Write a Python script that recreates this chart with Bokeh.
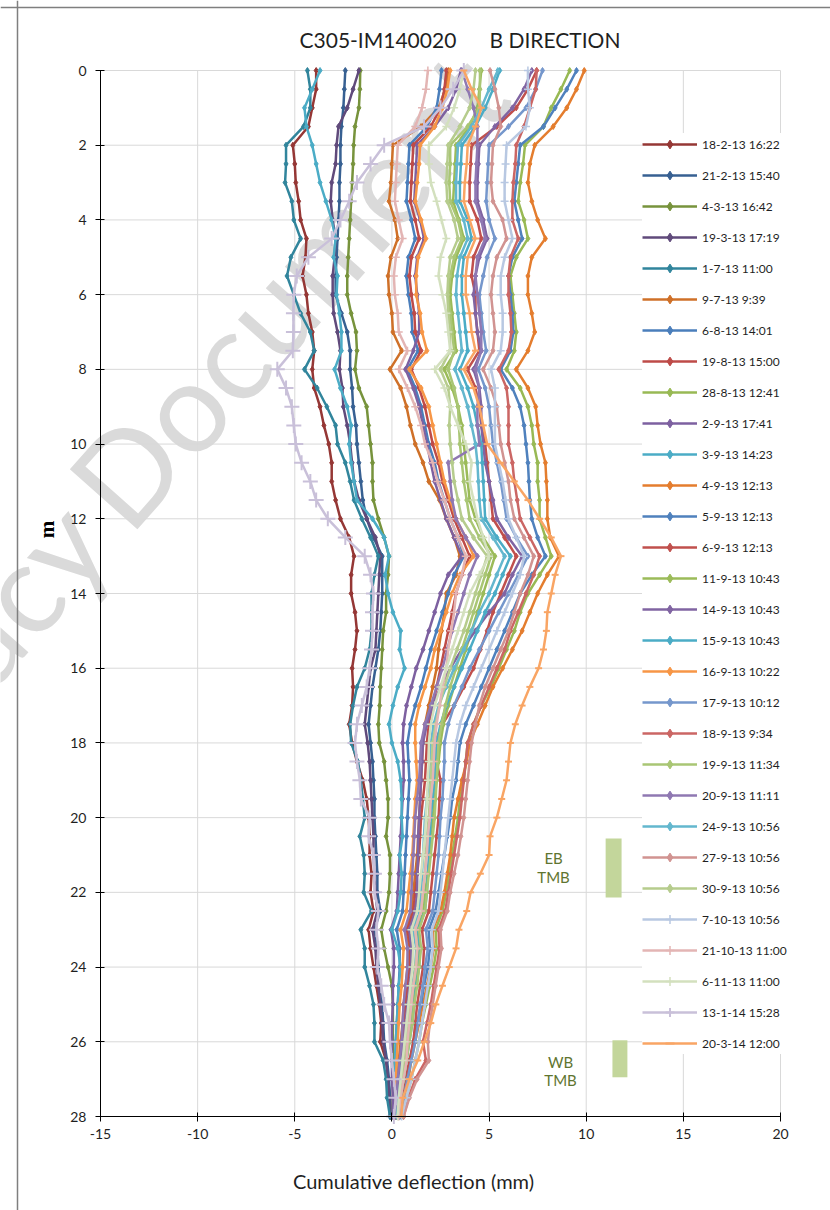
import math
from bokeh.plotting import figure
from bokeh.models import Range1d, FixedTicker, Legend, LegendItem, Label, Span
from bokeh.core.properties import value
from bokeh.embed import file_html
from bokeh.resources import INLINE

# ---------------- data ----------------
depth = [0.0, 0.5, 1.0, 1.5, 2.0, 2.5, 3.0, 3.5, 4.0, 4.5, 5.0, 5.5, 6.0, 6.5, 7.0, 7.5,
         8.0, 8.5, 9.0, 9.5, 10.0, 10.5, 11.0, 11.5, 12.0, 12.5, 13.0, 13.5, 14.0, 14.5,
         15.0, 15.5, 16.0, 16.5, 17.0, 17.5, 18.0, 18.5, 19.0, 19.5, 20.0, 20.5, 21.0,
         21.5, 22.0, 22.5, 23.0, 23.5, 24.0, 24.5, 25.0, 25.5, 26.0, 26.5, 27.0, 27.5, 28.0]

x_ticks = [-15, -10, -5, 0, 5, 10, 15, 20]
y_ticks = [0, 2, 4, 6, 8, 10, 12, 14, 16, 18, 20, 22, 24, 26, 28]

s_18_2_13 = [-3.9, -3.9, -4.1, -4.3, -5.1, -5.0,
             -4.95, -4.8, -4.7, -4.4, -4.45, -4.6,
             -4.4, -4.3, -4.1, -4.0, -4.1, -4.0,
             -3.7, -3.5, -3.25, -3.1, -3.1, -2.9,
             -2.65, -2.2, -1.95, -2.1, -2.1, -1.9,
             -1.8, -1.9, -2.05, -2.0, -2.05, -2.2,
             -2.05, -1.8, -1.5, -1.3, -1.2, -1.15,
             -1.15, -1.05, -1.1, -0.95, -1.2, -1.1,
             -0.95, -0.8, -0.65, -0.55, -0.6, -0.3,
             -0.2, -0.1, -0.05]
s_21_2_13 = [-2.4, -2.45, -2.5, -2.6, -2.65, -2.65,
             -2.7, -2.7, -2.75, -2.8, -2.85, -2.9,
             -2.9, -2.6, -2.3, -2.15, -2.15, -2.05,
             -2.0, -1.85, -1.8, -1.7, -1.6, -1.5,
             -1.3, -0.95, -0.5, -0.5, -0.5, -0.55,
             -0.6, -0.7, -0.85, -1.0, -1.1, -1.2,
             -1.1, -1.0, -0.95, -0.9, -0.9, -0.85,
             -0.8, -0.75, -0.75, -0.6, -0.9, -0.75,
             -0.7, -0.6, -0.5, -0.45, -0.4, -0.25,
             -0.15, -0.1, -0.05]
s_4_3_13 = [-1.63, -1.65, -1.7, -1.9, -1.97, -2.0,
            -2.05, -2.1, -2.15, -2.2, -2.25, -2.3,
            -2.3, -2.1, -1.85, -1.8, -1.9, -1.7,
            -1.3, -1.2, -1.1, -1.0, -1.0, -0.95,
            -0.7, -0.4, -0.15, -0.2, -0.3, -0.3,
            -0.45, -0.5, -0.55, -0.6, -0.63, -0.7,
            -0.65, -0.4, -0.3, -0.2, -0.2, -0.3,
            -0.1, -0.1, -0.15, -0.3, -0.55, -0.4,
            -0.2, 0.0, 0.05, 0.05, 0.05, 0.05,
            0.05, 0.05, 0.05]
s_19_3_13 = [-1.7, -2.0, -2.3, -2.75, -2.85, -2.9,
             -3.1, -3.15, -3.05, -2.9, -2.95, -3.05,
             -3.05, -3.0, -2.8, -2.65, -2.7, -2.55,
             -2.5, -2.3, -2.15, -2.05, -1.95, -1.7,
             -1.3, -0.85, -0.6, -0.65, -0.7, -0.75,
             -0.8, -0.85, -1.1, -1.2, -1.3, -1.4,
             -1.25, -1.15, -1.1, -1.05, -1.0, -0.95,
             -0.95, -0.9, -0.85, -0.75, -1.0, -0.85,
             -0.8, -0.7, -0.6, -0.5, -0.45, -0.3,
             -0.2, -0.15, -0.1]
s_1_7_13 = [-4.35, -4.2, -4.2, -4.55, -5.45, -5.45,
            -5.5, -5.15, -5.05, -4.7, -5.2, -5.4,
            -5.05, -4.7, -4.2, -4.0, -4.5, -3.85,
            -3.35, -2.9, -2.8, -2.4, -2.15, -1.95,
            -1.55, -1.1, -0.7, -0.9, -1.05, -1.05,
            -1.05, -1.15, -1.4, -1.8, -2.0, -2.15,
            -2.1, -1.75, -1.6, -1.5, -1.4, -1.65,
            -1.45, -1.4, -1.45, -1.05, -1.6, -1.4,
            -1.4, -1.15, -0.95, -0.9, -0.9, -0.45,
            -0.3, -0.25, -0.1]
s_9_7_13 = [2.9, 2.75, 2.4, 1.5, 0.05, 0.0,
            -0.05, -0.15, 0.15, 0.3, -0.05, -0.2,
            -0.15, 0.0, 0.05, 0.5, -0.1, 0.45,
            0.75, 0.95, 1.2, 1.6, 1.9, 2.45,
            2.8, 3.2, 3.5, 3.3, 2.8, 2.7,
            2.55, 2.4, 2.3, 2.1, 1.9, 1.7,
            1.6, 1.55, 1.5, 1.45, 1.4, 1.35,
            1.3, 1.2, 1.1, 1.0, 0.7, 0.85,
            0.8, 0.7, 0.6, 0.55, 0.45, 0.35,
            0.3, 0.25, 0.2]
s_6_8_13 = [2.55, 2.45, 2.3, 1.8, 0.9, 0.85,
            0.8, 0.75, 1.0, 1.2, 0.85, 0.75,
            0.85, 1.0, 1.05, 1.35, 0.8, 1.2,
            1.5, 1.7, 1.9, 2.2, 2.4, 2.7,
            3.0, 3.4, 3.7, 3.2, 2.9, 2.6,
            2.3, 2.0, 1.75, 1.5, 1.2, 0.95,
            0.8, 0.85, 0.9, 0.85, 0.8, 0.75,
            0.7, 0.65, 0.6, 0.55, 0.25, 0.4,
            0.4, 0.35, 0.3, 0.25, 0.2, 0.2,
            0.15, 0.15, 0.1]
s_19_8_13 = [2.8, 2.7, 2.5, 2.0, 1.1, 1.05,
             1.0, 0.95, 1.2, 1.4, 1.0, 0.9,
             1.0, 1.15, 1.2, 1.5, 1.0, 1.4,
             1.7, 1.9, 2.1, 2.4, 2.6, 2.9,
             3.2, 3.6, 4.0, 3.6, 3.3, 3.1,
             2.9, 2.7, 2.5, 2.3, 2.1, 1.9,
             1.8, 1.75, 1.7, 1.6, 1.5, 1.45,
             1.4, 1.3, 1.2, 1.1, 0.8, 0.95,
             0.9, 0.8, 0.7, 0.6, 0.55, 0.45,
             0.4, 0.3, 0.25]
s_28_8_13 = [9.15, 8.7, 8.2, 7.8, 6.85, 6.75,
             6.6, 6.5, 6.8, 7.0, 6.4, 6.1,
             6.2, 6.3, 6.4, 6.3, 5.9, 6.6,
             7.0, 7.2, 7.3, 7.5, 7.5, 7.6,
             7.6, 7.9, 8.2, 7.6, 7.0, 6.6,
             6.3, 5.9, 5.5, 5.1, 4.6, 4.2,
             3.9, 3.8, 3.7, 3.5, 3.4, 3.25,
             3.1, 2.95, 2.8, 2.6, 2.25, 2.3,
             2.15, 1.95, 1.75, 1.55, 1.4, 1.2,
             1.0, 0.75, 0.5]
s_2_9_13 = [3.55, 3.3, 2.9, 2.2, 1.3, 1.25,
            1.2, 1.15, 1.45, 1.65, 1.3, 1.2,
            1.3, 1.4, 1.4, 1.1, 0.7, 1.1,
            1.4, 1.6, 1.8, 2.0, 2.2, 2.5,
            2.8, 3.2, 3.6, 2.9, 2.5, 2.2,
            1.9, 1.6, 1.25, 1.0, 0.75, 0.6,
            0.55, 0.6, 0.6, 0.55, 0.5, 0.45,
            0.4, 0.35, 0.3, 0.25, -0.05, 0.1,
            0.1, 0.05, 0.05, 0.0, 0.0, 0.0,
            0.0, 0.05, 0.05]
s_3_9_13 = [-3.7, -4.1, -4.5, -4.4, -4.1, -3.9,
            -3.7, -3.4, -3.1, -2.9, -3.0, -2.8,
            -2.85, -2.7, -2.6, -2.6, -2.95, -2.65,
            -2.3, -2.1, -2.2, -2.1, -1.95, -1.8,
            -1.0, -0.4, -0.15, -0.35, -0.2, 0.05,
            0.45, 0.4, 0.65, 0.3, 0.05, -0.15,
            0.0, 0.3, 0.45, 0.5, 0.5, 0.55,
            0.4, 0.5, 0.45, 0.3, 0.0, 0.3,
            0.45, 0.35, 0.3, 0.25, 0.2, 0.15,
            0.15, 0.2, 0.3]
s_4_9_13 = [9.9, 9.5, 9.0, 8.3, 7.35, 7.1,
            7.0, 7.2, 7.5, 7.9, 7.2, 7.0,
            7.0, 7.2, 7.35, 7.0, 6.4, 7.0,
            7.4, 7.5, 7.65, 7.9, 7.95, 8.0,
            8.0, 8.15, 8.6, 8.0, 7.5, 7.1,
            6.7, 6.2, 5.7, 5.2, 4.8, 4.4,
            4.0, 3.85, 3.6, 3.4, 3.2, 3.1,
            3.0, 2.85, 2.7, 2.5, 2.1, 2.15,
            2.0, 1.8, 1.6, 1.4, 1.2, 1.0,
            0.85, 0.6, 0.4]
s_5_9_13 = [9.5, 9.0, 8.4, 7.8, 6.6, 6.5,
            6.4, 6.3, 6.5, 6.7, 6.2, 6.0,
            6.1, 6.2, 6.25, 6.1, 5.6, 6.2,
            6.6, 6.8, 6.9, 7.0, 7.05, 7.1,
            7.2, 7.5, 7.9, 7.2, 6.6, 6.2,
            5.8, 5.4, 5.0, 4.6, 4.2, 3.8,
            3.5, 3.4, 3.3, 3.1, 3.0, 2.85,
            2.7, 2.55, 2.4, 2.25, 1.9, 1.95,
            1.85, 1.65, 1.5, 1.3, 1.1, 0.95,
            0.75, 0.55, 0.4]
s_6_9_13 = [7.45, 7.0, 6.4, 5.4, 4.1, 4.05,
            4.0, 4.0, 4.4, 4.6, 4.2, 4.1,
            4.3, 4.3, 4.4, 4.5, 3.9, 4.3,
            4.5, 4.6, 4.8, 4.9, 5.0, 5.1,
            5.2, 5.8, 6.4, 6.0, 5.6, 5.2,
            4.9, 4.55, 4.2, 3.7, 3.2, 2.6,
            2.2, 2.3, 2.5, 2.45, 2.4, 2.3,
            2.2, 2.1, 2.0, 1.9, 1.55, 1.65,
            1.6, 1.45, 1.3, 1.2, 1.1, 0.9,
            0.7, 0.5, 0.35]
s_11_9_13 = [4.6, 4.5, 4.4, 4.0, 3.3, 3.25,
             3.2, 3.15, 3.45, 3.7, 3.3, 3.1,
             3.0, 3.1, 3.2, 3.3, 2.7, 3.1,
             3.4, 3.6, 3.7, 3.8, 3.9, 4.0,
             4.3, 4.7, 5.3, 5.0, 4.7, 4.4,
             4.1, 3.8, 3.5, 3.2, 2.9, 2.65,
             2.5, 2.4, 2.3, 2.2, 2.1, 2.0,
             1.95, 1.85, 1.7, 1.6, 1.3, 1.4,
             1.3, 1.2, 1.05, 0.95, 0.8, 0.7,
             0.55, 0.4, 0.3]
s_14_9_13 = [7.2, 6.8, 6.2, 5.3, 4.5, 4.45,
             4.4, 4.4, 4.7, 4.9, 4.5, 4.3,
             4.2, 4.3, 4.4, 4.6, 4.2, 4.5,
             4.6, 4.6, 4.7, 4.8, 5.0, 5.2,
             5.4, 6.0, 6.7, 6.2, 5.8, 5.0,
             4.3, 3.6, 3.0, 2.5, 2.1, 1.8,
             1.6, 1.55, 1.5, 1.45, 1.4, 1.35,
             1.35, 1.3, 1.3, 1.2, 0.9, 1.0,
             1.0, 0.9, 0.8, 0.7, 0.6, 0.5,
             0.4, 0.3, 0.2]
s_15_9_13 = [5.55, 5.2, 4.8, 4.3, 3.6, 3.55,
             3.5, 3.5, 3.9, 4.1, 3.7, 3.6,
             3.6, 3.7, 3.8, 3.9, 3.5, 3.9,
             4.2, 4.4, 4.6, 4.65, 4.7, 4.75,
             4.8, 5.4, 6.1, 5.7, 5.3, 4.8,
             4.4, 4.0, 3.6, 3.2, 2.8, 2.5,
             2.3, 2.25, 2.2, 2.1, 2.0, 1.95,
             1.9, 1.85, 1.8, 1.7, 1.35, 1.45,
             1.4, 1.25, 1.15, 1.05, 0.9, 0.75,
             0.6, 0.45, 0.35]
s_16_9_13 = [3.0, 2.85, 2.6, 2.2, 1.45, 1.4,
             1.3, 1.2, 1.5, 1.75, 1.35, 1.25,
             1.25, 1.45, 1.55, 1.8, 0.9, 1.5,
             1.9, 2.1, 2.3, 2.5, 2.7, 3.0,
             3.3, 3.8, 4.2, 3.5, 3.1, 2.8,
             2.5, 2.2, 2.0, 1.7, 1.4, 1.2,
             1.2, 1.25, 1.3, 1.2, 1.15, 1.1,
             1.05, 0.95, 0.85, 0.75, 0.45, 0.6,
             0.55, 0.5, 0.4, 0.35, 0.3, 0.25,
             0.2, 0.2, 0.15]
s_17_9_13 = [7.75, 7.4, 6.9, 6.0, 5.0, 4.95,
             4.9, 4.85, 5.0, 5.3, 4.9, 4.7,
             4.5, 4.6, 4.7, 4.85, 4.45, 4.8,
             5.0, 5.1, 5.2, 5.4, 5.6, 5.75,
             5.9, 6.4, 7.0, 6.5, 6.0, 5.5,
             5.0, 4.5, 4.0, 3.6, 3.2, 2.9,
             2.7, 2.7, 2.65, 2.6, 2.5, 2.45,
             2.4, 2.3, 2.2, 2.1, 1.75, 1.85,
             1.7, 1.6, 1.45, 1.35, 1.2, 1.0,
             0.8, 0.6, 0.4]
s_18_9_13 = [7.45, 7.4, 7.1, 6.8, 6.4, 6.35,
             6.25, 6.2, 6.2, 6.5, 6.1, 6.0,
             6.0, 6.1, 6.15, 6.0, 5.5, 5.9,
             6.0, 6.0, 6.0, 6.2, 6.3, 6.45,
             6.6, 7.1, 7.6, 7.3, 6.9, 6.5,
             6.1, 5.8, 5.4, 5.0, 4.6, 4.2,
             3.9, 3.8, 3.7, 3.6, 3.5, 3.35,
             3.2, 3.05, 2.9, 2.75, 2.4, 2.45,
             2.3, 2.15, 2.0, 1.8, 1.6, 1.75,
             1.2, 0.85, 0.6]
s_19_9_13 = [4.53, 4.53, 4.5, 3.9, 3.0, 3.0,
             2.95, 3.0, 3.4, 3.6, 3.2, 3.0,
             2.9, 3.0, 3.1, 3.2, 2.9, 3.2,
             3.4, 3.45, 3.5, 3.6, 3.7, 3.85,
             4.0, 4.5, 5.1, 4.8, 4.5, 4.2,
             3.9, 3.6, 3.3, 3.0, 2.75, 2.55,
             2.4, 2.35, 2.3, 2.25, 2.2, 2.1,
             2.0, 1.9, 1.8, 1.7, 1.4, 1.5,
             1.4, 1.3, 1.15, 1.05, 0.9, 0.75,
             0.6, 0.45, 0.3]
s_20_9_13 = [3.6, 3.9, 4.2, 4.4, 4.4, 4.35,
             4.3, 4.3, 4.6, 4.8, 4.4, 4.3,
             4.4, 4.5, 4.6, 4.6, 4.3, 4.5,
             4.4, 4.4, 4.5, 2.9, 3.0, 3.1,
             3.3, 3.8, 4.4, 4.0, 3.7, 3.4,
             3.1, 2.85, 2.6, 2.3, 2.0, 1.7,
             1.5, 1.45, 1.4, 1.3, 1.2, 1.15,
             1.1, 1.05, 1.0, 0.95, 0.65, 0.8,
             0.8, 0.7, 0.6, 0.55, 0.5, 0.4,
             0.3, 0.2, 0.15]
s_24_9_13 = [5.45, 5.0, 4.6, 4.1, 3.4, 3.35,
             3.3, 3.3, 3.7, 3.9, 3.5, 3.35,
             3.3, 3.4, 3.5, 3.6, 3.25, 3.6,
             3.9, 4.1, 4.3, 4.4, 4.45, 4.5,
             4.6, 5.2, 5.8, 5.4, 5.0, 4.5,
             4.1, 3.7, 3.2, 2.8, 2.4, 2.15,
             2.0, 1.95, 1.9, 1.8, 1.7, 1.65,
             1.6, 1.55, 1.5, 1.4, 1.1, 1.25,
             1.2, 1.05, 0.95, 0.85, 0.7, 0.55,
             0.45, 0.35, 0.25]
s_27_9_13 = [5.05, 5.3, 5.5, 5.6, 5.2, 5.15,
             5.1, 5.2, 5.7, 5.9, 5.4, 5.2,
             5.1, 5.2, 5.3, 5.2, 4.7, 5.1,
             5.4, 5.5, 5.6, 5.8, 6.0, 6.1,
             6.3, 6.8, 7.3, 7.0, 6.6, 6.3,
             6.0, 5.6, 5.2, 4.8, 4.5, 4.3,
             4.1, 4.0, 3.9, 3.8, 3.7, 3.55,
             3.4, 3.2, 3.0, 2.85, 2.5, 2.55,
             2.4, 2.25, 2.1, 1.95, 1.85, 1.9,
             1.3, 0.9, 0.6]
s_30_9_13 = [4.3, 4.2, 4.0, 3.5, 2.9, 2.85,
             2.8, 2.85, 3.2, 3.4, 3.0, 2.9,
             2.85, 2.9, 3.0, 3.0, 2.5, 2.9,
             3.0, 2.95, 3.0, 3.1, 3.2, 3.4,
             3.6, 4.2, 4.9, 4.6, 4.3, 4.0,
             3.7, 3.35, 3.0, 2.7, 2.45, 2.25,
             2.1, 2.05, 2.0, 1.95, 1.9, 1.8,
             1.75, 1.7, 1.6, 1.5, 1.2, 1.3,
             1.2, 1.1, 0.95, 0.85, 0.75, 0.6,
             0.5, 0.4, 0.3]
s_7_10_13 = [7.0, 7.0, 7.1, 6.9, 5.9, 5.85,
             5.8, 5.8, 6.0, 6.2, 5.8, 5.6,
             5.6, 5.7, 5.7, 5.6, 5.1, 5.3,
             5.3, 5.3, 5.3, 5.5, 5.7, 5.85,
             6.0, 6.4, 6.8, 6.6, 6.2, 5.8,
             5.4, 5.0, 4.6, 4.2, 3.8, 3.5,
             3.3, 3.2, 3.1, 3.0, 2.9, 2.8,
             2.7, 2.6, 2.5, 2.4, 2.05, 2.1,
             2.0, 1.85, 1.7, 1.55, 1.4, 1.2,
             1.0, 0.75, 0.5]
s_21_10_13 = [1.85, 1.75, 1.55, 1.2, 0.3, 0.25,
              0.2, 0.15, 0.35, 0.55, 0.2, 0.1,
              0.15, 0.3, 0.35, 0.8, 0.35, 0.8,
              1.2, 1.5, 1.7, 2.1, 2.35, 2.7,
              3.0, 3.4, 3.8, 3.6, 3.3, 3.2,
              3.05, 2.9, 2.8, 2.6, 2.45, 2.3,
              2.2, 2.15, 2.1, 2.0, 1.95, 1.85,
              1.8, 1.7, 1.6, 1.5, 1.2, 1.3,
              1.25, 1.1, 1.0, 0.9, 0.8, 0.75,
              0.6, 0.45, 0.35]
s_6_11_13 = [3.7, 3.5, 3.2, 2.8, 1.9, 1.9,
             2.0, 2.3, 2.55, 2.8, 2.5, 2.4,
             2.6, 2.8, 2.9, 3.0, 2.2, 2.7,
             3.0, 3.4, 3.8, 4.1, 4.0, 4.2,
             4.4, 4.7, 5.0, 4.5, 4.0, 3.7,
             3.4, 3.1, 2.8, 2.5, 2.2, 2.0,
             1.9, 1.9, 1.85, 1.8, 1.75, 1.7,
             1.6, 1.5, 1.4, 1.3, 1.0, 1.1,
             1.05, 0.95, 0.85, 0.75, 0.65, 0.55,
             0.45, 0.35, 0.3]
s_13_1_14 = [3.7, 3.15, 2.5, 1.65, -0.4, -1.1,
             -1.8, -2.2, -2.65, -3.1, -4.3, -4.9,
             -5.05, -5.07, -5.07, -5.1, -5.9, -5.45,
             -5.15, -5.05, -4.95, -4.65, -4.2, -3.9,
             -3.3, -2.4, -1.4, -1.1, -0.95, -1.0,
             -1.0, -1.05, -1.15, -1.3, -1.55, -1.8,
             -1.9, -1.8, -1.65, -1.6, -1.15, -1.2,
             -0.95, -0.9, -0.9, -0.7, -0.8, -0.7,
             -0.75, -0.55, -0.4, -0.15, -0.1, 0.0,
             0.1, 0.2, 0.1]
s_20_3_14 = [3.7, 4.1, 4.6, 4.3, 3.9, 3.85,
             3.75, 3.7, 4.0, 4.3, 3.9, 3.8,
             3.8, 4.0, 4.1, 4.3, 3.7, 4.2,
             4.5, 4.7, 4.9, 5.6, 6.3, 7.0,
             7.6, 8.2, 8.7, 8.4, 8.2, 8.0,
             7.95, 7.8, 7.55, 7.1, 6.7, 6.35,
             6.1, 6.0, 5.9, 5.65, 5.4, 5.05,
             5.0, 4.55, 4.05, 3.85, 3.45, 3.3,
             2.95, 2.6, 2.26, 2.0, 1.67, 1.33,
             0.9, 0.56, 0.48]

series_names = ["18-2-13 16:22", "21-2-13 15:40", "4-3-13 16:42", "19-3-13 17:19",
                "1-7-13 11:00", "9-7-13 9:39", "6-8-13 14:01", "19-8-13 15:00",
                "28-8-13 12:41", "2-9-13 17:41", "3-9-13 14:23", "4-9-13 12:13",
                "5-9-13 12:13", "6-9-13 12:13", "11-9-13 10:43", "14-9-13 10:43",
                "15-9-13 10:43", "16-9-13 10:22", "17-9-13 10:12", "18-9-13 9:34",
                "19-9-13 11:34", "20-9-13 11:11", "24-9-13 10:56", "27-9-13 10:56",
                "30-9-13 10:56", "7-10-13 10:56", "21-10-13 11:00", "6-11-13 11:00",
                "13-1-14 15:28", "20-3-14 12:00"]
series_values = [s_18_2_13, s_21_2_13, s_4_3_13, s_19_3_13, s_1_7_13, s_9_7_13,
                 s_6_8_13, s_19_8_13, s_28_8_13, s_2_9_13, s_3_9_13, s_4_9_13,
                 s_5_9_13, s_6_9_13, s_11_9_13, s_14_9_13, s_15_9_13, s_16_9_13,
                 s_17_9_13, s_18_9_13, s_19_9_13, s_20_9_13, s_24_9_13, s_27_9_13,
                 s_30_9_13, s_7_10_13, s_21_10_13, s_6_11_13, s_13_1_14, s_20_3_14]

tmb_text = ["EB", "TMB", "WB", "TMB"]
tmb_text_x = [8.32, 8.32, 8.68, 8.68]
tmb_text_y = [21.07, 21.6, 26.55, 27.03]
tmb_left = [11.0, 11.35]
tmb_right = [11.82, 12.12]
tmb_top = [20.56, 25.96]
tmb_bottom = [22.14, 26.95]

# ---------------- styles / layout ----------------
colors = ["#953735", "#376092", "#77933C", "#604A7B", "#31859C", "#CF7028",
          "#4A7EBB", "#BE4B48", "#98B954", "#7D60A0", "#4BACC6", "#E47D2E",
          "#4F81BD", "#C0504D", "#9BBB59", "#8064A2", "#4BACC6", "#F79646",
          "#7597CC", "#CB6664", "#A9C674", "#8F78B2", "#63B7CE", "#D19391",
          "#B6CC8D", "#B8C8E2", "#E3B5B4", "#D3E0BE", "#C9C0D9", "#F9A564"]
markers = ["diamond"] * 25 + ["cross", "cross", "cross", "cross", "dash"]
msizes = [6] * 25 + [8, 8, 8, 15, 7]

FONT = "Lato"
W, H = 830, 1210
PL, PR, PT, PB = 100, 780, 70, 1116          # plot area in canvas pixels
XMIN, XMAX, YMIN, YMAX = -15, 20, 0, 28
kx = (XMAX - XMIN) / (PR - PL)
ky = (YMAX - YMIN) / (PB - PT)
x_lo = XMIN - PL * kx
x_hi = XMAX + (W - PR) * kx
y_top = YMIN - PT * ky
y_bot = YMAX + (H - PB) * ky


def px_x(px):
    return XMIN + (px - PL) * kx


def px_y(py):
    return YMIN + (py - PT) * ky


p = figure(width=W, height=H, output_backend="svg", toolbar_location=None,
           x_range=Range1d(x_lo, x_hi), y_range=Range1d(y_bot, y_top),
           min_border=0, min_border_left=0, min_border_right=0,
           min_border_top=0, min_border_bottom=0)
p.background_fill_color = "white"
p.border_fill_color = "white"
p.outline_line_color = None
p.xgrid.visible = False
p.ygrid.visible = False

# watermark (behind everything)
p.add_layout(Label(x=px_x(93), y=px_y(505), text="Document", angle=0.845, text_font=FONT,
                   text_font_size="126px", text_color="#DADADA", text_align="left",
                   text_baseline="alphabetic", level="underlay"))
p.add_layout(Label(x=px_x(80), y=px_y(520), text="Legacy", angle=0.845, text_font=FONT,
                   text_font_size="126px", text_color="#DADADA", text_align="right",
                   text_baseline="alphabetic", level="underlay"))

# grid lines limited to plot area
p.segment(x0=x_ticks, y0=[YMIN] * len(x_ticks), x1=x_ticks, y1=[YMAX] * len(x_ticks),
          line_color="#D9D9D9", line_width=1)
p.segment(x0=[XMIN] * len(y_ticks), y0=y_ticks, x1=[XMAX] * len(y_ticks), y1=y_ticks,
          line_color="#D9D9D9", line_width=1)

# axes drawn at fixed positions inside the canvas-wide frame
p.xaxis.fixed_location = YMAX
p.xaxis.bounds = (XMIN, XMAX)
p.yaxis.fixed_location = XMIN
p.yaxis.bounds = (YMIN, YMAX)
for ax in (p.xaxis[0], p.yaxis[0]):
    ax.axis_line_color = "black"
    ax.axis_line_width = 1
    ax.major_tick_line_color = "black"
    ax.minor_tick_line_color = None
    ax.major_tick_in = 4
    ax.major_tick_out = 5
    ax.major_label_text_font = FONT
    ax.major_label_text_font_size = "14px"
    ax.major_label_text_color = "#1F1F1F"
p.xaxis.ticker = FixedTicker(ticks=x_ticks)
p.yaxis.ticker = FixedTicker(ticks=y_ticks)
p.xaxis.major_label_overrides = {t: str(t) for t in x_ticks}
p.yaxis.major_label_overrides = {t: str(t) for t in y_ticks}
p.xaxis.major_label_standoff = 7
p.yaxis.major_label_standoff = 9

# TMB markers
p.quad(left=tmb_left, right=tmb_right, top=tmb_top, bottom=tmb_bottom,
       fill_color="#C3D69B", line_color=None)
p.text(x=tmb_text_x, y=tmb_text_y, text=tmb_text, text_font=value(FONT),
       text_font_size="15px", text_color="#5F7530", text_align="center",
       text_baseline="middle")

# series
items = []
for name, vals, col, mk, ms in zip(series_names, series_values, colors, markers, msizes):
    lr = p.line(vals, depth, line_color=col, line_width=2.5)
    if mk == "cross":
        sr = p.scatter(vals, depth, marker=mk, size=ms, line_color=col,
                       line_width=2 if ms > 10 else 1.5)
    elif mk == "dash":
        sr = p.scatter(vals, depth, marker=mk, size=ms, line_color=col, line_width=2)
    else:
        sr = p.scatter(vals, depth, marker=mk, size=ms, fill_color=col, line_color=col)
    items.append(LegendItem(label=name, renderers=[lr, sr]))

legend = Legend(items=items, location=(642, 156))
legend.label_text_font = FONT
legend.label_text_font_size = "12px"
legend.label_text_color = "#1F1F1F"
legend.glyph_width = 55
legend.glyph_height = 22
legend.label_height = 22
legend.spacing = 9
legend.padding = 5
legend.margin = 0
legend.label_standoff = 5
legend.border_line_color = None
legend.background_fill_color = "white"
legend.background_fill_alpha = 1.0
p.add_layout(legend)

# titles / axis labels
p.add_layout(Label(x=px_x(299), y=px_y(39), text="C305-IM140020", text_font=FONT,
                   text_font_size="21px", text_color="#1F1F1F",
                   text_align="left", text_baseline="middle"))
p.add_layout(Label(x=px_x(489), y=px_y(39), text="B DIRECTION", text_font=FONT,
                   text_font_size="21px", text_color="#1F1F1F",
                   text_align="left", text_baseline="middle"))
p.add_layout(Label(x=px_x(413), y=px_y(1180), text="Cumulative deflection (mm)",
                   text_font=FONT, text_font_size="20px", text_color="#1F1F1F",
                   text_align="center", text_baseline="middle"))
p.add_layout(Label(x=px_x(46), y=px_y(529), text="m", text_font="Liberation Serif",
                   text_font_style="bold", text_font_size="21px", text_color="black",
                   angle=math.pi / 2, text_align="center", text_baseline="middle"))

# document frame lines
p.add_layout(Span(location=px_x(17), dimension="height",
                  line_color="#7F7F7F", line_width=1.5))
p.add_layout(Span(location=px_y(7), dimension="width",
                  line_color="#7F7F7F", line_width=1.5))

open("out.html", "w").write(file_html(p, INLINE))
